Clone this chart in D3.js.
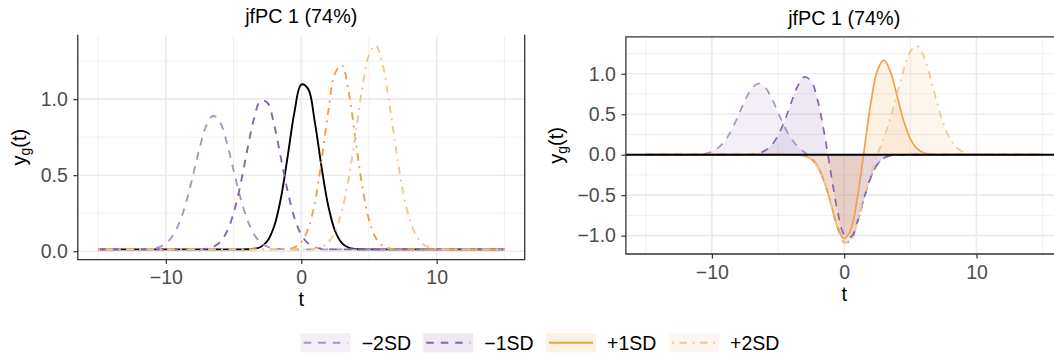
<!DOCTYPE html>
<html>
<head>
<meta charset="utf-8">
<script src="https://cdn.jsdelivr.net/npm/d3@7"></script>
<style>
  body { margin: 0; background: #fff; }
  text { font-family: "Liberation Sans", Arial, Helvetica, sans-serif; }
</style>
</head>
<body>
<svg id="chart" width="1054" height="358"></svg>
<script>
// Sampling grid of t
const tValues = [
  -15, -14.5, -14, -13.5, -13, -12.5, -12, -11.5, -11, -10.5,
  -10, -9.5, -9, -8.5, -8, -7.5, -7, -6.5, -6, -5.5,
  -5, -4.5, -4, -3.5, -3, -2.5, -2, -1.5, -1, -0.5,
  0, 0.5, 1, 1.5, 2, 2.5, 3, 3.5, 4, 4.5,
  5, 5.5, 6, 6.5, 7, 7.5, 8, 8.5, 9, 9.5,
  10, 10.5, 11, 11.5, 12, 12.5, 13, 13.5, 14, 14.5, 15
];

// Mean function y_g(t)
const meanCurve = [
  0.012, 0.012, 0.012, 0.012, 0.012, 0.012, 0.012, 0.012, 0.012, 0.012,
  0.012, 0.012, 0.012, 0.012, 0.012, 0.012, 0.012, 0.012, 0.012, 0.012,
  0.012, 0.012, 0.013, 0.016, 0.028, 0.067, 0.164, 0.350, 0.625, 0.916,
  1.096, 1.069, 0.851, 0.553, 0.296, 0.133, 0.054, 0.024, 0.015, 0.013,
  0.012, 0.012, 0.012, 0.012, 0.012, 0.012, 0.012, 0.012, 0.012, 0.012,
  0.012, 0.012, 0.012, 0.012, 0.012, 0.012, 0.012, 0.012, 0.012, 0.012, 0.012
];

// Mean -/+ multiples of the first component
const minus2SD = [
  0.012, 0.012, 0.012, 0.012, 0.012, 0.012, 0.012, 0.014, 0.017, 0.027,
  0.051, 0.100, 0.188, 0.322, 0.497, 0.681, 0.828, 0.891, 0.849, 0.716,
  0.534, 0.355, 0.211, 0.114, 0.058, 0.030, 0.019, 0.014, 0.013, 0.012,
  0.012, 0.012, 0.012, 0.012, 0.012, 0.012, 0.012, 0.012, 0.012, 0.012,
  0.012, 0.012, 0.012, 0.012, 0.012, 0.012, 0.012, 0.012, 0.012, 0.012,
  0.012, 0.012, 0.012, 0.012, 0.012, 0.012, 0.012, 0.012, 0.012, 0.012, 0.012
];
const minus1SD = [
  0.012, 0.012, 0.012, 0.012, 0.012, 0.012, 0.012, 0.012, 0.012, 0.012,
  0.012, 0.012, 0.012, 0.012, 0.012, 0.013, 0.017, 0.029, 0.060, 0.127,
  0.249, 0.433, 0.659, 0.868, 0.990, 0.976, 0.831, 0.612, 0.392, 0.219,
  0.109, 0.052, 0.026, 0.016, 0.013, 0.012, 0.012, 0.012, 0.012, 0.012,
  0.012, 0.012, 0.012, 0.012, 0.012, 0.012, 0.012, 0.012, 0.012, 0.012,
  0.012, 0.012, 0.012, 0.012, 0.012, 0.012, 0.012, 0.012, 0.012, 0.012, 0.012
];
const plus1SD = [
  0.012, 0.012, 0.012, 0.012, 0.012, 0.012, 0.012, 0.012, 0.012, 0.012,
  0.012, 0.012, 0.012, 0.012, 0.012, 0.012, 0.012, 0.012, 0.012, 0.012,
  0.012, 0.012, 0.012, 0.012, 0.012, 0.012, 0.012, 0.013, 0.015, 0.026,
  0.059, 0.145, 0.319, 0.596, 0.921, 1.171, 1.223, 1.048, 0.739, 0.430,
  0.209, 0.088, 0.036, 0.018, 0.013, 0.012, 0.012, 0.012, 0.012, 0.012,
  0.012, 0.012, 0.012, 0.012, 0.012, 0.012, 0.012, 0.012, 0.012, 0.012, 0.012
];
const plus2SD = [
  0.012, 0.012, 0.012, 0.012, 0.012, 0.012, 0.012, 0.012, 0.012, 0.012,
  0.012, 0.012, 0.012, 0.012, 0.012, 0.012, 0.012, 0.012, 0.012, 0.012,
  0.012, 0.012, 0.012, 0.012, 0.012, 0.012, 0.012, 0.012, 0.012, 0.012,
  0.012, 0.013, 0.017, 0.028, 0.059, 0.128, 0.262, 0.479, 0.766, 1.066,
  1.290, 1.354, 1.232, 0.974, 0.669, 0.400, 0.211, 0.100, 0.046, 0.023,
  0.015, 0.013, 0.012, 0.012, 0.012, 0.012, 0.012, 0.012, 0.012, 0.012, 0.012
];

const seriesLabels = ["\u22122SD", "\u22121SD", "+1SD", "+2SD"];
const seriesValues = [minus2SD, minus1SD, plus1SD, plus2SD];
const panelTitle = "jfPC 1 (74%)";

const xTicks = [-10, 0, 10];
const xMinorTicks = [-15, -5, 5, 15];
const yTicksLeft = [0, 0.5, 1.0];
const yMinorLeft = [0.25, 0.75, 1.25];
const yTicksRight = [-1.0, -0.5, 0, 0.5, 1.0];
const yMinorRight = [-0.75, -0.25, 0.25, 0.75, 1.25];
const xDomain = [-16.5, 16.5];
const yDomainLeft = [-0.055, 1.423];
const yDomainRight = [-1.227, 1.457];
const referenceLevel = 0;

// Styling
const colors = ["#a894c4", "#8a64a8", "#f0a048", "#f4c590"];
const DASHED = "7.5,7";
const DOTDASH = "2,5.5,7.5,5.5";
const dashLeft = [DASHED, DASHED, DOTDASH, DOTDASH];
const dashRight = [DASHED, DASHED, null, DOTDASH];
const fillOpacity = 0.15;
const tickColor = "#4d4d4d";
const gridColor = "#ebebeb";
const borderColor = "#333333";

const svg = d3.select("#chart");
const curve = d3.curveCatmullRom.alpha(0.5);

function drawPanel(cfg) {
  const x = d3.scaleLinear().domain(xDomain).range([cfg.x0, cfg.x1]);
  const y = d3.scaleLinear().domain(cfg.yDomain).range([cfg.y1, cfg.y0]);
  const g = svg.append("g");

  const clipId = "clip-" + cfg.id;
  svg.append("clipPath").attr("id", clipId)
    .append("rect")
    .attr("x", cfg.x0).attr("y", cfg.y0)
    .attr("width", cfg.x1 - cfg.x0).attr("height", cfg.y1 - cfg.y0);

  // grid
  const grid = g.append("g");
  grid.selectAll(".gxm").data(xMinorTicks).join("line")
    .attr("x1", d => x(d)).attr("x2", d => x(d))
    .attr("y1", cfg.y0).attr("y2", cfg.y1)
    .attr("stroke", gridColor).attr("stroke-width", 0.8);
  grid.selectAll(".gym").data(cfg.yMinor).join("line")
    .attr("x1", cfg.x0).attr("x2", cfg.x1)
    .attr("y1", d => y(d)).attr("y2", d => y(d))
    .attr("stroke", gridColor).attr("stroke-width", 0.8);
  grid.selectAll(".gx").data(xTicks).join("line")
    .attr("x1", d => x(d)).attr("x2", d => x(d))
    .attr("y1", cfg.y0).attr("y2", cfg.y1)
    .attr("stroke", gridColor).attr("stroke-width", 1.6);
  grid.selectAll(".gy").data(cfg.yTicks).join("line")
    .attr("x1", cfg.x0).attr("x2", cfg.x1)
    .attr("y1", d => y(d)).attr("y2", d => y(d))
    .attr("stroke", gridColor).attr("stroke-width", 1.6);

  const plot = g.append("g").attr("clip-path", `url(#${clipId})`);
  cfg.drawData(plot, x, y);

  // borders
  const b = g.append("g").attr("stroke", borderColor).attr("stroke-width", 1.3).attr("fill", "none");
  b.append("path").attr("d", cfg.borderPath(cfg));

  // axes
  const xAxis = d3.axisBottom(x).tickValues(xTicks).tickSize(4.4).tickPadding(6.3)
    .tickFormat(d3.format("d"));
  const gx = g.append("g").attr("transform", `translate(0,${cfg.y1})`).call(xAxis);
  const yAxis = d3.axisLeft(y).tickValues(cfg.yTicks).tickSize(4.4).tickPadding(5.6)
    .tickFormat(d3.format(".1f"));
  const gy = g.append("g").attr("transform", `translate(${cfg.x0},0)`).call(yAxis);
  [gx, gy].forEach(a => {
    a.select(".domain").remove();
    a.selectAll(".tick line").attr("stroke", borderColor).attr("stroke-width", 1.2);
    a.selectAll(".tick text").attr("fill", tickColor).attr("font-size", 19.5)
      .attr("font-family", "Liberation Sans, Arial, sans-serif");
  });

  // titles
  g.append("text").attr("x", (cfg.x0 + cfg.x1) / 2).attr("y", cfg.titleY)
    .attr("text-anchor", "middle").attr("font-size", 19.8).attr("fill", "#000")
    .text(panelTitle);
  g.append("text").attr("x", x(0)).attr("y", cfg.y1 + 46.5)
    .attr("text-anchor", "middle").attr("font-size", 20).attr("fill", "#000")
    .text("t");
  const yl = g.append("text")
    .attr("transform", `translate(${cfg.ylabX},${(cfg.y0 + cfg.y1) / 2}) rotate(-90)`)
    .attr("text-anchor", "middle").attr("font-size", 20).attr("fill", "#000");
  yl.append("tspan").text("y");
  yl.append("tspan").attr("font-size", 14).attr("dy", 4).text("g");
  yl.append("tspan").attr("dy", -4).text("(t)");
}

// Left panel: raw curves
drawPanel({
  id: "left", x0: 77.8, x1: 524.7, y0: 34.8, y1: 259.6,
  yDomain: yDomainLeft, yTicks: yTicksLeft, yMinor: yMinorLeft,
  titleY: 23, ylabX: 26,
  borderPath: c => `M${c.x0},${c.y0}V${c.y1}H${c.x1}V${c.y0}`,
  drawData: (plot, x, y) => {
    const line = d3.line().x((d, i) => x(tValues[i])).y(d => y(d)).curve(curve);
    plot.append("path").datum(meanCurve).attr("d", line)
      .attr("fill", "none").attr("stroke", "#000").attr("stroke-width", 1.9);
    seriesValues.forEach((vals, k) => {
      plot.append("path").datum(vals).attr("d", line)
        .attr("fill", "none").attr("stroke", colors[k]).attr("stroke-width", 1.9)
        .attr("stroke-dasharray", dashLeft[k]);
    });
  }
});

// Right panel: deviations from the mean
drawPanel({
  id: "right", x0: 625.9, x1: 1062.5, y0: 36.8, y1: 254,
  yDomain: yDomainRight, yTicks: yTicksRight, yMinor: yMinorRight,
  titleY: 25.3, ylabX: 563,
  borderPath: c => `M${c.x1},${c.y0}H${c.x0}V${c.y1}H${c.x1}`,
  drawData: (plot, x, y) => {
    const line = d3.line().x((d, i) => x(tValues[i])).y(d => y(d)).curve(curve);
    const area = d3.area().x((d, i) => x(tValues[i])).y0(y(referenceLevel)).y1(d => y(d)).curve(curve);
    const diffs = seriesValues.map(vals => vals.map((v, i) => v - meanCurve[i]));
    diffs.forEach((vals, k) => {
      plot.append("path").datum(vals).attr("d", area)
        .attr("fill", colors[k]).attr("fill-opacity", fillOpacity).attr("stroke", "none");
    });
    diffs.forEach((vals, k) => {
      const p = plot.append("path").datum(vals).attr("d", line)
        .attr("fill", "none").attr("stroke", colors[k]).attr("stroke-width", 1.7);
      if (dashRight[k]) p.attr("stroke-dasharray", dashRight[k]);
    });
    // horizontal reference at the mean (zero deviation), across the panel
    plot.append("line")
      .attr("x1", x.range()[0]).attr("x2", x.range()[1])
      .attr("y1", y(referenceLevel)).attr("y2", y(referenceLevel))
      .attr("stroke", "#000").attr("stroke-width", 1.9);
  }
});

// Legend
const legendKeyX = [300.7, 423.3, 546, 669];
const legend = svg.append("g");
seriesLabels.forEach((lab, k) => {
  const kx = legendKeyX[k], ky = 333.3, kw = 50, kh = 19;
  legend.append("rect").attr("x", kx).attr("y", ky).attr("width", kw).attr("height", kh)
    .attr("fill", colors[k]).attr("fill-opacity", fillOpacity);
  const l = legend.append("line").attr("x1", kx + 3).attr("x2", kx + kw - 3)
    .attr("y1", ky + kh / 2).attr("y2", ky + kh / 2)
    .attr("stroke", colors[k]).attr("stroke-width", 1.9);
  if (dashRight[k]) l.attr("stroke-dasharray", dashRight[k]);
  legend.append("text").attr("x", kx + kw + 11).attr("y", 349.5)
    .attr("font-size", 19.5).attr("fill", "#000").text(lab);
});
</script>
</body>
</html>
